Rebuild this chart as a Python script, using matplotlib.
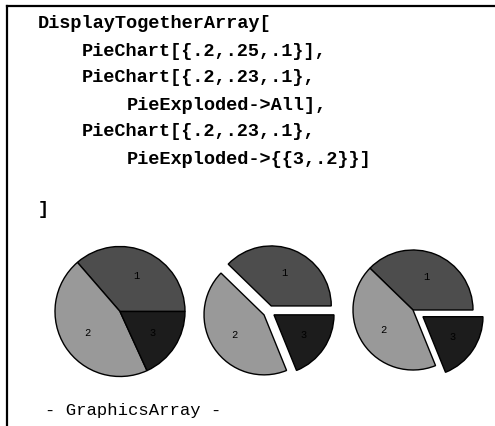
import matplotlib
matplotlib.use("Agg")
import matplotlib.pyplot as plt
from matplotlib.lines import Line2D

W, H = 495, 426

# ---- data ----
code_lines = [
    "DisplayTogetherArray[",
    "PieChart[{.2,.25,.1}],",
    "PieChart[{.2,.23,.1},",
    "PieExploded->All],",
    "PieChart[{.2,.23,.1},",
    "PieExploded->{{3,.2}}]",
    "]",
]
code_indent = [0, 1, 1, 2, 1, 2, 0]
footer = "- GraphicsArray -"

pie1_values = [0.2, 0.25, 0.1]
pie2_values = [0.2, 0.23, 0.1]
pie3_values = [0.2, 0.23, 0.1]
slice_labels = ["1", "2", "3"]
pie2_explode = [0.1, 0.1, 0.1]   # PieExploded->All
pie3_explode = [0.0, 0.0, 0.2]   # PieExploded->{{3,.2}}

# ---- styling ----
slice_colors = ["#4d4d4d", "#999999", "#1c1c1c"]

fig = plt.figure(figsize=(W / 100, H / 100), dpi=100)
fig.patch.set_facecolor("white")
ax = fig.add_axes([0, 0, 1, 1])

def sy(y):
    return H - y

pies = [
    (pie1_values, [0, 0, 0], (120, 311.5), 65),
    (pie2_values, pie2_explode, (269, 311.5), 60),
    (pie3_values, pie3_explode, (413, 310), 60),
]
for vals, expl, (cx, cy), r in pies:
    ax.pie(vals, explode=[e * r for e in expl], labels=slice_labels,
           colors=slice_colors, startangle=0, counterclock=True,
           center=(cx, sy(cy)), radius=r, labeldistance=0.6,
           wedgeprops=dict(edgecolor="black", linewidth=1.0),
           textprops=dict(family="Liberation Mono", fontsize=7.5,
                          color="black", ha="center", va="center"))

ax.set_xlim(0, W)
ax.set_ylim(0, H)
ax.set_aspect("auto")
ax.axis("off")

# notebook cell frame
ax.add_line(Line2D([7, W], [sy(6), sy(6)], color="black", linewidth=1.6))
ax.add_line(Line2D([7, 7], [sy(6), 0], color="black", linewidth=1.6))

x_levels = [38, 82, 127]
y_lines = [24, 51, 78, 105, 132, 159, 210]
for txt, lvl, y in zip(code_lines, code_indent, y_lines):
    ax.text(x_levels[lvl], sy(y), txt, family="Liberation Mono",
            fontweight="bold", fontsize=13.4, ha="left", va="center",
            color="black")

ax.text(45, sy(410), footer, family="Liberation Mono", fontsize=12.4,
        ha="left", va="center", color="black")

fig.savefig("out.png", dpi=100, facecolor="white")
